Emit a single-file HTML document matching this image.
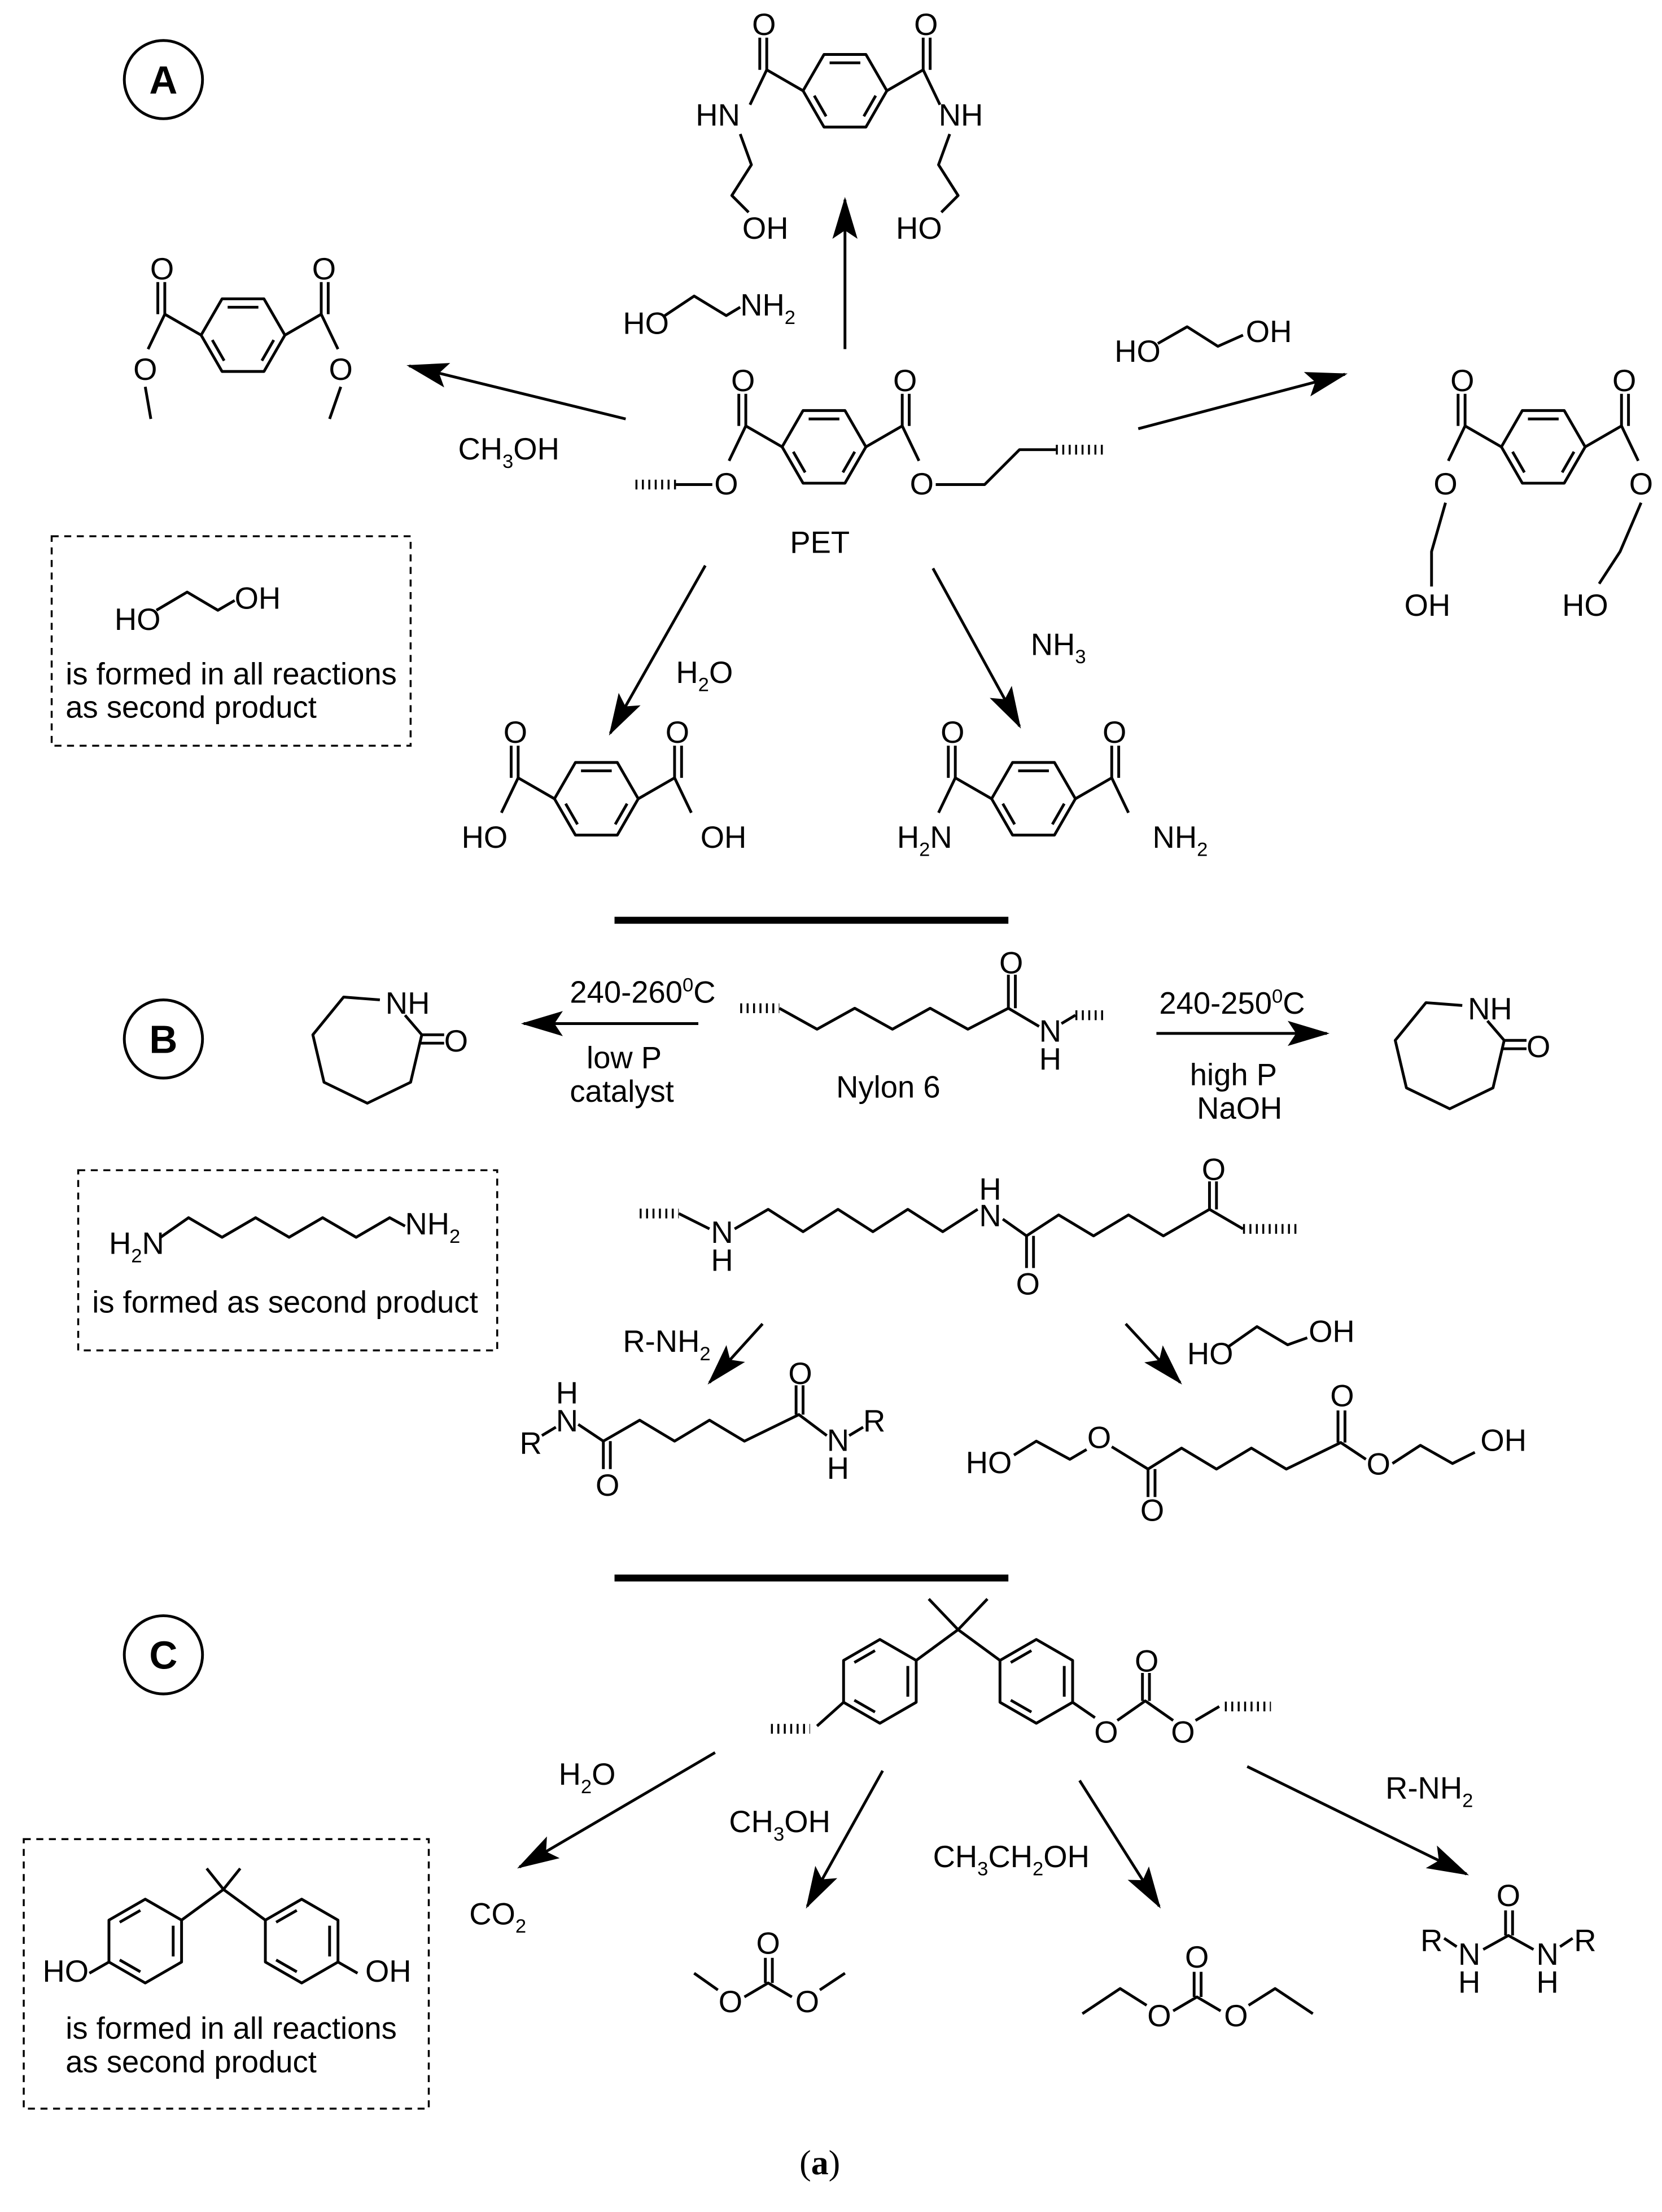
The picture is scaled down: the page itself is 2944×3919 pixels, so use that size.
<!DOCTYPE html>
<html><head><meta charset="utf-8">
<style>
html,body{margin:0;padding:0;background:#fff;}
svg{display:block;}
.b{stroke:#000;stroke-width:2;fill:none;stroke-linejoin:round;}
.h{stroke:#000;stroke-width:7;stroke-dasharray:1.4 3.2;fill:none;}
.d{stroke:#000;stroke-width:1.4;stroke-dasharray:5 4;fill:none;}
text{font-family:"Liberation Sans",Arial,sans-serif;font-size:22px;fill:#000;}
.s{font-size:14px;}
.c{text-anchor:middle;}
</style></head><body>
<svg width="2944" height="3919" viewBox="0 0 1190 1584" preserveAspectRatio="none" xmlns="http://www.w3.org/2000/svg">
<defs>
<marker id="ar" markerUnits="userSpaceOnUse" markerWidth="40" markerHeight="20" refX="0" refY="0" viewBox="-30 -10 32 20" orient="auto" overflow="visible">
<path d="M2,0 L-28,-9 L-22,0 L-28,9 Z" fill="#000"/>
</marker>
<g id="h">
<polygon class="b" points="30,0 15,26 -15,26 -30,0 -15,-26 15,-26"/>
<line class="b" x1="-11" y1="-20" x2="11" y2="-20"/>
<line class="b" x1="-22" y1="3.5" x2="-13.5" y2="18.3"/>
<line class="b" x1="22" y1="3.5" x2="13.5" y2="18.3"/>
</g>
<g id="tp">
<use href="#h"/>
<line class="b" x1="-30" y1="0" x2="-56" y2="-15"/>
<line class="b" x1="30" y1="0" x2="56" y2="-15"/>
<line class="b" x1="-56" y1="-15" x2="-56" y2="-38"/>
<line class="b" x1="-61" y1="-15" x2="-61" y2="-38"/>
<line class="b" x1="56" y1="-15" x2="56" y2="-38"/>
<line class="b" x1="61" y1="-15" x2="61" y2="-38"/>
<text x="-58" y="-40" class="c">O</text>
<text x="58" y="-40" class="c">O</text>
<line class="b" x1="-56" y1="-15" x2="-68" y2="10"/>
<line class="b" x1="56" y1="-15" x2="68" y2="10"/>
</g>
<g id="cap">
<polyline class="b" points="272,716 246,714 224,741 232,775 263,790 294,775 302,741 290,727"/>
<line class="b" x1="302" y1="741" x2="318" y2="741"/>
<line class="b" x1="300" y1="747" x2="318" y2="747"/>
<text x="276" y="726">NH</text>
<text x="318" y="753">O</text>
</g>
</defs>

<!-- ===== A ===== -->
<circle cx="117" cy="57" r="28" class="b"/>
<text x="117" y="67" class="c" style="font-weight:bold;font-size:28px">A</text>

<use href="#tp" x="605" y="65"/>
<text x="514" y="90" class="c">HN</text>
<text x="688" y="90" class="c">NH</text>
<polyline class="b" points="530,96 538,118 524,140 536,152"/>
<text x="548" y="171" class="c">OH</text>
<polyline class="b" points="680,96 672,118 686,140 674,152"/>
<text x="658" y="171" class="c">HO</text>
<line class="b" x1="605" y1="250" x2="605" y2="143" marker-end="url(#ar)"/>
<text x="446" y="239">HO</text>
<polyline class="b" points="476,226 497,212 520,226 530,220"/>
<text x="530" y="226">NH<tspan class="s" dy="6">2</tspan></text>

<use href="#tp" x="174" y="240"/>
<text x="104" y="272" class="c">O</text>
<text x="244" y="272" class="c">O</text>
<line class="b" x1="104" y1="277" x2="108" y2="300"/>
<line class="b" x1="244" y1="277" x2="236" y2="300"/>
<line class="b" x1="448" y1="300" x2="293" y2="262" marker-end="url(#ar)"/>
<text x="328" y="329">CH<tspan class="s" dy="6">3</tspan><tspan dy="-6">OH</tspan></text>

<use href="#tp" x="590" y="320"/>
<text x="520" y="354" class="c">O</text>
<text x="660" y="354" class="c">O</text>
<line class="h" x1="455" y1="347" x2="484" y2="347"/>
<line class="b" x1="484" y1="347" x2="510" y2="347"/>
<polyline class="b" points="670,347 705,347 730,322 756,322"/>
<line class="h" x1="756" y1="322" x2="792" y2="322"/>
<text x="587" y="396" class="c">PET</text>

<line class="b" x1="815" y1="307" x2="963" y2="268" marker-end="url(#ar)"/>
<text x="798" y="259">HO</text>
<polyline class="b" points="829,246 850,234 872,248 890,240"/>
<text x="892" y="245">OH</text>
<use href="#tp" x="1105" y="320"/>
<text x="1035" y="354" class="c">O</text>
<text x="1175" y="354" class="c">O</text>
<polyline class="b" points="1035,360 1025,395 1025,420"/>
<text x="1022" y="441" class="c">OH</text>
<polyline class="b" points="1175,360 1160,395 1145,418"/>
<text x="1135" y="441" class="c">HO</text>

<rect x="37" y="384" width="257" height="150" class="d"/>
<text x="82" y="451">HO</text>
<polyline class="b" points="112,437 134,424 156,437 168,430"/>
<text x="168" y="436">OH</text>
<text x="47" y="490">is formed in all reactions</text>
<text x="47" y="514">as second product</text>

<line class="b" x1="505" y1="405" x2="437" y2="525" marker-end="url(#ar)"/>
<text x="484" y="489">H<tspan class="s" dy="6">2</tspan><tspan dy="-6">O</tspan></text>
<line class="b" x1="668" y1="407" x2="730" y2="520" marker-end="url(#ar)"/>
<text x="738" y="469">NH<tspan class="s" dy="6">3</tspan></text>

<use href="#tp" x="427" y="572"/>
<text x="347" y="607" class="c">HO</text>
<text x="518" y="607" class="c">OH</text>
<use href="#tp" x="740" y="572"/>
<text x="662" y="607" class="c">H<tspan class="s" dy="6">2</tspan><tspan dy="-6">N</tspan></text>
<text x="845" y="607" class="c">NH<tspan class="s" dy="6">2</tspan></text>

<line x1="440" y1="659" x2="722" y2="659" stroke="#000" stroke-width="5"/>

<!-- ===== B ===== -->
<circle cx="117" cy="744" r="28" class="b"/>
<text x="117" y="754" class="c" style="font-weight:bold;font-size:28px">B</text>
<use href="#cap"/>
<line class="b" x1="500" y1="733" x2="375" y2="733" marker-end="url(#ar)"/>
<text x="408" y="718">240-260<tspan class="s" dy="-8">0</tspan><tspan dy="8">C</tspan></text>
<text x="420" y="765">low P</text>
<text x="408" y="789">catalyst</text>

<line class="h" x1="530" y1="722" x2="558" y2="722"/>
<polyline class="b" points="558,722 585,737 612,722 639,737 666,722 693,737 722,722 744,735"/>
<line class="b" x1="722" y1="722" x2="722" y2="698"/>
<line class="b" x1="727" y1="722" x2="727" y2="698"/>
<text x="724" y="697" class="c">O</text>
<text x="752" y="746" class="c">N</text>
<text x="752" y="766" class="c">H</text>
<line class="b" x1="760" y1="733" x2="770" y2="727"/>
<line class="h" x1="770" y1="727" x2="792" y2="727"/>
<text x="636" y="786" class="c">Nylon 6</text>

<line class="b" x1="828" y1="740" x2="950" y2="740" marker-end="url(#ar)"/>
<text x="830" y="726">240-250<tspan class="s" dy="-8">0</tspan><tspan dy="8">C</tspan></text>
<text x="852" y="777">high P</text>
<text x="857" y="801">NaOH</text>
<use href="#cap" x="775" y="4"/>

<rect x="56" y="838" width="300" height="129" class="d"/>
<text x="78" y="898">H<tspan class="s" dy="6">2</tspan><tspan dy="-6">N</tspan></text>
<polyline class="b" points="115,886 135,872 159,886 183,872 207,886 231,872 255,886 279,872 290,878"/>
<text x="290" y="884">NH<tspan class="s" dy="6">2</tspan></text>
<text x="66" y="940">is formed  as second product</text>

<line class="h" x1="458" y1="869" x2="486" y2="869"/>
<line class="b" x1="486" y1="869" x2="508" y2="880"/>
<text x="517" y="890" class="c">N</text>
<text x="517" y="910" class="c">H</text>
<polyline class="b" points="526,880 550,866 575,882 600,866 625,882 650,866 675,882 700,866"/>
<text x="709" y="878" class="c">N</text>
<text x="709" y="859" class="c">H</text>
<polyline class="b" points="718,873 735,885 758,870 783,885 808,870 833,885 866,866 890,880"/>
<line class="b" x1="735" y1="885" x2="735" y2="908"/>
<line class="b" x1="740" y1="885" x2="740" y2="908"/>
<text x="736" y="927" class="c">O</text>
<line class="b" x1="866" y1="866" x2="866" y2="846"/>
<line class="b" x1="871" y1="866" x2="871" y2="846"/>
<text x="869" y="845" class="c">O</text>
<line class="h" x1="890" y1="880" x2="930" y2="880"/>

<line class="b" x1="546" y1="948" x2="508" y2="990" marker-end="url(#ar)"/>
<text x="446" y="968">R-NH<tspan class="s" dy="6">2</tspan></text>
<line class="b" x1="806" y1="948" x2="845" y2="990" marker-end="url(#ar)"/>
<text x="850" y="977">HO</text>
<polyline class="b" points="880,964 900,950 922,963 936,958"/>
<text x="937" y="961">OH</text>

<text x="380" y="1041" class="c">R</text>
<line class="b" x1="388" y1="1028" x2="398" y2="1022"/>
<text x="406" y="1025" class="c">N</text>
<text x="406" y="1005" class="c">H</text>
<polyline class="b" points="414,1020 432,1032 458,1017 483,1032 508,1017 533,1032 572,1013 592,1028"/>
<line class="b" x1="432" y1="1032" x2="432" y2="1052"/>
<line class="b" x1="437" y1="1032" x2="437" y2="1052"/>
<text x="435" y="1071" class="c">O</text>
<line class="b" x1="570" y1="1013" x2="570" y2="992"/>
<line class="b" x1="575" y1="1013" x2="575" y2="992"/>
<text x="573" y="991" class="c">O</text>
<text x="600" y="1039" class="c">N</text>
<text x="600" y="1059" class="c">H</text>
<line class="b" x1="608" y1="1028" x2="618" y2="1022"/>
<text x="626" y="1025" class="c">R</text>

<text x="708" y="1055" class="c">HO</text>
<polyline class="b" points="726,1042 742,1032 766,1045 778,1038"/>
<text x="787" y="1037" class="c">O</text>
<polyline class="b" points="796,1036 822,1052 846,1037 871,1052 896,1037 921,1052 960,1033 978,1045"/>
<line class="b" x1="822" y1="1052" x2="822" y2="1072"/>
<line class="b" x1="827" y1="1052" x2="827" y2="1072"/>
<text x="825" y="1089" class="c">O</text>
<line class="b" x1="958" y1="1033" x2="958" y2="1010"/>
<line class="b" x1="963" y1="1033" x2="963" y2="1010"/>
<text x="961" y="1007" class="c">O</text>
<text x="987" y="1056" class="c">O</text>
<polyline class="b" points="997,1048 1017,1035 1040,1048 1056,1040"/>
<text x="1060" y="1039">OH</text>

<line x1="440" y1="1130" x2="722" y2="1130" stroke="#000" stroke-width="5"/>

<!-- ===== C ===== -->
<circle cx="117" cy="1185" r="28" class="b"/>
<text x="117" y="1195" class="c" style="font-weight:bold;font-size:28px">C</text>

<use href="#h" transform="translate(630,1204) rotate(90)"/>
<use href="#h" transform="translate(742,1204) rotate(90)"/>
<polyline class="b" points="656,1189 686,1167 716,1189"/>
<line class="b" x1="686" y1="1167" x2="665" y2="1145"/>
<line class="b" x1="686" y1="1167" x2="707" y2="1145"/>
<line class="b" x1="604" y1="1219" x2="585" y2="1236"/>
<line class="h" x1="552" y1="1238" x2="580" y2="1238"/>
<line class="b" x1="768" y1="1219" x2="784" y2="1230"/>
<text x="792" y="1248" class="c">O</text>
<polyline class="b" points="800,1232 820,1218 840,1232"/>
<line class="b" x1="818" y1="1218" x2="818" y2="1198"/>
<line class="b" x1="823" y1="1218" x2="823" y2="1198"/>
<text x="821" y="1197" class="c">O</text>
<text x="847" y="1248" class="c">O</text>
<line class="b" x1="856" y1="1232" x2="873" y2="1222"/>
<line class="h" x1="877" y1="1222" x2="910" y2="1222"/>

<line class="b" x1="512" y1="1255" x2="372" y2="1337" marker-end="url(#ar)"/>
<text x="400" y="1278">H<tspan class="s" dy="6">2</tspan><tspan dy="-6">O</tspan></text>
<line class="b" x1="632" y1="1268" x2="578" y2="1365" marker-end="url(#ar)"/>
<text x="522" y="1312">CH<tspan class="s" dy="6">3</tspan><tspan dy="-6">OH</tspan></text>
<line class="b" x1="773" y1="1275" x2="830" y2="1365" marker-end="url(#ar)"/>
<text x="668" y="1337">CH<tspan class="s" dy="6">3</tspan><tspan dy="-6">CH</tspan><tspan class="s" dy="6">2</tspan><tspan dy="-6">OH</tspan></text>
<line class="b" x1="893" y1="1265" x2="1050" y2="1342" marker-end="url(#ar)"/>
<text x="992" y="1288">R-NH<tspan class="s" dy="6">2</tspan></text>

<text x="336" y="1378">CO<tspan class="s" dy="6">2</tspan></text>

<text x="550" y="1399" class="c">O</text>
<line class="b" x1="548" y1="1402" x2="548" y2="1420"/>
<line class="b" x1="553" y1="1402" x2="553" y2="1420"/>
<polyline class="b" points="533,1430 550,1420 567,1430"/>
<text x="523" y="1441" class="c">O</text>
<text x="578" y="1441" class="c">O</text>
<line class="b" x1="514" y1="1425" x2="497" y2="1413"/>
<line class="b" x1="587" y1="1425" x2="605" y2="1413"/>

<text x="857" y="1409" class="c">O</text>
<line class="b" x1="855" y1="1412" x2="855" y2="1430"/>
<line class="b" x1="860" y1="1412" x2="860" y2="1430"/>
<polyline class="b" points="840,1440 857,1430 874,1440"/>
<text x="830" y="1451" class="c">O</text>
<text x="885" y="1451" class="c">O</text>
<polyline class="b" points="821,1436 802,1424 775,1442"/>
<polyline class="b" points="894,1436 913,1424 940,1442"/>

<text x="1080" y="1365" class="c">O</text>
<line class="b" x1="1078" y1="1368" x2="1078" y2="1386"/>
<line class="b" x1="1083" y1="1368" x2="1083" y2="1386"/>
<polyline class="b" points="1062,1396 1080,1386 1098,1396"/>
<text x="1052" y="1407" class="c">N</text>
<text x="1052" y="1427" class="c">H</text>
<text x="1108" y="1407" class="c">N</text>
<text x="1108" y="1427" class="c">H</text>
<line class="b" x1="1043" y1="1394" x2="1034" y2="1388"/>
<text x="1025" y="1397" class="c">R</text>
<line class="b" x1="1117" y1="1394" x2="1126" y2="1388"/>
<text x="1135" y="1397" class="c">R</text>

<rect x="17" y="1317" width="290" height="193" class="d"/>
<use href="#h" transform="translate(104,1390) rotate(90)"/>
<use href="#h" transform="translate(216,1390) rotate(90)"/>
<polyline class="b" points="130,1375 160,1353 190,1375"/>
<line class="b" x1="160" y1="1353" x2="148" y2="1338"/>
<line class="b" x1="160" y1="1353" x2="172" y2="1338"/>
<line class="b" x1="78" y1="1405" x2="64" y2="1413"/>
<text x="47" y="1419" class="c">HO</text>
<line class="b" x1="242" y1="1405" x2="256" y2="1413"/>
<text x="278" y="1419" class="c">OH</text>
<text x="47" y="1460">is formed in all reactions</text>
<text x="47" y="1484">as second product</text>

<text x="587" y="1557" class="c" style="font-family:'Liberation Serif',serif;font-size:25px">(<tspan style="font-weight:bold">a</tspan>)</text>
</svg>
</body></html>
